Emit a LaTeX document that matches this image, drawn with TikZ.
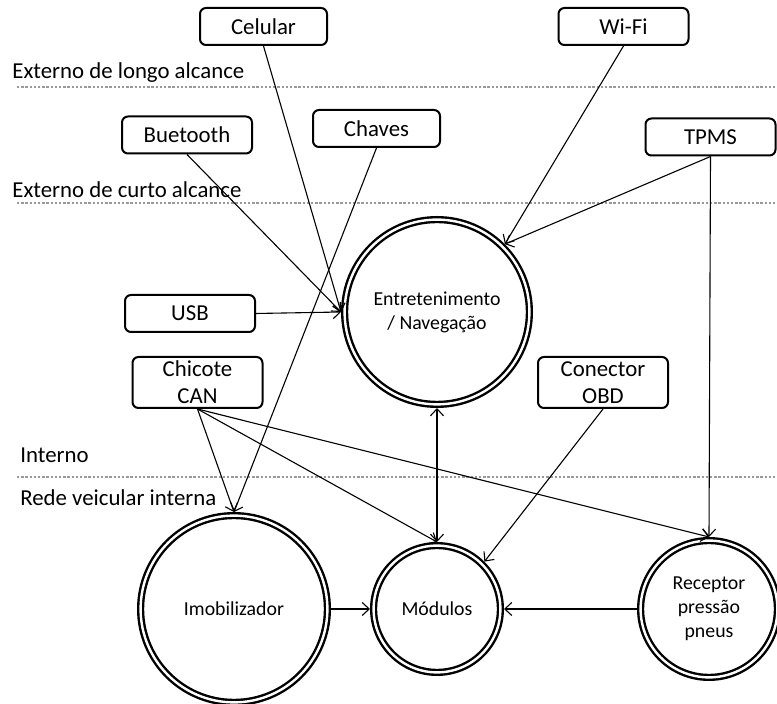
\documentclass[tikz,border=0pt]{standalone}
\usepackage{fontspec}
\setmainfont{Carlito}
\usetikzlibrary{arrows.meta}
\begin{document}
\begin{tikzpicture}[x=0.5pt,y=-0.5pt,
  box/.style={draw, line width=1pt, rounded corners=3pt, minimum width=65pt,
    minimum height=18.5pt, inner sep=0pt, align=center,
    font=\fontsize{11.4}{13.5}\selectfont},
  ring/.style={circle, draw, line width=1.2pt, double, double distance=1.2pt,
    inner sep=0pt, outer sep=1.8pt, align=center,
    font=\fontsize{9.9}{12}\selectfont},
  zone/.style={anchor=west, inner sep=0pt, font=\fontsize{11.4}{13.5}\selectfont},
  sep/.style={black!40, line width=0.6pt, dash pattern=on 1.2pt off 0.9pt},
  link/.style={line width=0.55pt, -{Straight Barb[length=3.5pt,width=6.5pt]}},
  both/.style={line width=0.55pt,
    {Straight Barb[length=3.5pt,width=6.5pt]}-{Straight Barb[length=3.5pt,width=6.5pt]}},
]
\useasboundingbox (0,0) rectangle (777,704);

% zone separators and their labels
\node[zone] (zlong)  at (12,73)  {Externo de longo alcance};
\node[zone] (zshort) at (12,190) {Externo de curto alcance};
\node[zone] (zin)    at (20,455) {Interno};
\node[zone] (znet)   at (20,498) {Rede veicular interna};
\draw[sep] (17,87)  -- (777,87);
\draw[sep] (17,203) -- (777,203);
\draw[sep] (17,477) -- (777,477);

% access points
\node[box, minimum width=63.5pt] (cel) at (263.5,26.5) {Celular};
\node[box] (wifi) at (623.5,26.5) {Wi-Fi};
\node[box] (but)  at (187,135)   {Buetooth};
\node[box, minimum width=63.5pt] (cha) at (376.5,128.5) {Chaves};
\node[box] (tpms) at (710.5,137) {TPMS};
\node[box] (usb)  at (190,313.5) {USB};
\node[box, minimum height=25.5pt] (chi) at (197.5,382.5) {Chicote\\CAN};
\node[box, minimum height=25.5pt] (obd) at (603,382.5) {Conector\\OBD};

% vehicle systems
\node[ring, minimum size=92.4pt] (ent) at (437,312) {Entretenimento\\/ Navegação};
\node[ring, minimum size=93.4pt] (imo) at (234,609) {Imobilizador};
\node[ring, minimum size=63.4pt] (mod) at (437,609) {Módulos};
\node[ring, minimum size=68.4pt] (rec) at (709,609) {Receptor\\pressão\\pneus};

% connections
\draw[link] (cel.south)  -- (ent.west);
\draw[link] (but.south)  -- (ent.west);
\draw[link] (usb.east)   -- (ent.west);
\draw[link] (wifi.south) -- (ent.north east);
\draw[link] (tpms.south) -- (ent.north east);
\draw[link] (tpms.south) -- (rec.north);
\draw[link] (cha.south)  -- (imo.north);
\draw[link] (chi.south)  -- (imo.north);
\draw[link] (chi.south)  -- (mod.north);
\draw[link] (chi.south)  -- (rec.north);
\draw[link] (obd.south)  -- (mod.north east);
\draw[both] (ent.south)  -- (mod.north);
\draw[link] (imo.east)   -- (mod.west);
\draw[link] (rec.west)   -- (mod.east);
\end{tikzpicture}
\end{document}
